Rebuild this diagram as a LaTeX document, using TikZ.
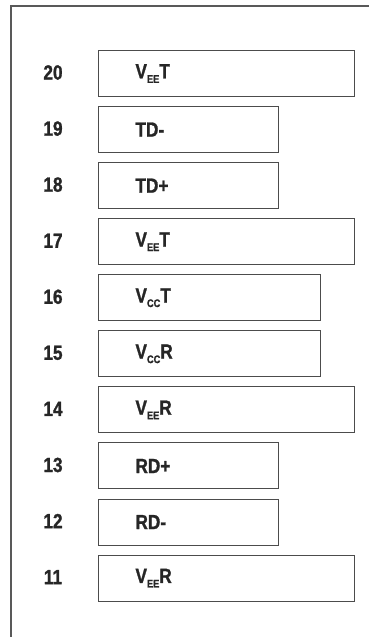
\documentclass[tikz,border=0pt]{standalone}
\usepackage{fontspec}
\setmainfont{Liberation Sans}
\newfontfamily\pinfont[FakeStretch=0.84,FakeBold=1.2]{Liberation Sans Bold}
\newcommand{\sbs}[1]{\raisebox{-0.22em}{\fontsize{11}{11}\selectfont #1}}
\begin{document}
\begin{tikzpicture}[x=1pt,y=-1pt,
  frameline/.style={draw=black!65,line width=1.4pt},
  pinbox/.style={draw=black!70,line width=1pt,rectangle,minimum height=46pt,
    inner xsep=37pt,inner ysep=0pt,align=left,anchor=north west,
    font=\pinfont\fontsize{20.5}{22}\selectfont,text=black!85},
  pinnum/.style={font=\pinfont\fontsize{20.5}{22}\selectfont,text=black!85,anchor=center}]
\useasboundingbox (0,0) rectangle (368,637);
% outer frame: top and left edges
\coordinate (fl) at (11,640);
\coordinate (fc) at (11,6);
\coordinate (fr) at (370,6);
\draw[frameline] (fl) -- (fc) -- (fr);
% pin rows
\foreach \n/\k/\w/\lab in {
  20/0/256/{V\sbs{EE}T},
  19/1/180/{TD-},
  18/2/180/{TD+},
  17/3/256/{V\sbs{EE}T},
  16/4/222/{V\sbs{CC}T},
  15/5/222/{V\sbs{CC}R},
  14/6/256/{V\sbs{EE}R},
  13/7/180/{RD+},
  12/8/180/{RD-},
  11/9/256/{V\sbs{EE}R}} {
  \node[pinbox,text width=\w pt-74pt] (b\n) at (98,{50+\k*56.07}) {\lab};
  \node[pinnum] (n\n) at (53,{72.5+\k*56.07}) {\n};
}
\end{tikzpicture}
\end{document}
